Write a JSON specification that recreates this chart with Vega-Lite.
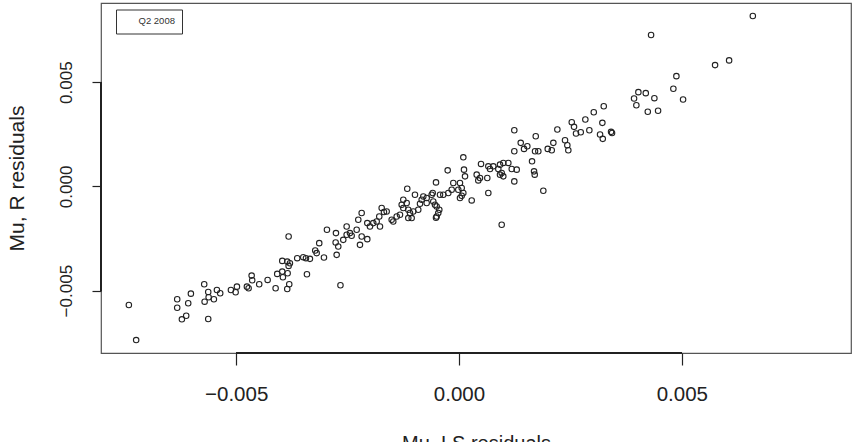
{
  "$schema": "https://vega.github.io/schema/vega-lite/v6.json",
  "width": 750,
  "height": 350,
  "autosize": {"type": "none"},
  "padding": {"left": 101, "top": 3, "right": 3, "bottom": 89},
  "background": "white",
  "config": {
    "view": {"stroke": "#555", "strokeWidth": 1.2},
    "font": "Liberation Sans"
  },
  "data": {
    "values": [
      {"ls": -0.007408, "r": -0.005688, "period": "Q2 2008"},
      {"ls": -0.007244, "r": -0.00737, "period": "Q2 2008"},
      {"ls": -0.006323, "r": -0.005413, "period": "Q2 2008"},
      {"ls": -0.006323, "r": -0.005817, "period": "Q2 2008"},
      {"ls": -0.006076, "r": -0.005606, "period": "Q2 2008"},
      {"ls": -0.006016, "r": -0.005144, "period": "Q2 2008"},
      {"ls": -0.006121, "r": -0.006202, "period": "Q2 2008"},
      {"ls": -0.006218, "r": -0.006375, "period": "Q2 2008"},
      {"ls": -0.005717, "r": -0.004692, "period": "Q2 2008"},
      {"ls": -0.005627, "r": -0.005063, "period": "Q2 2008"},
      {"ls": -0.005618, "r": -0.005317, "period": "Q2 2008"},
      {"ls": -0.005708, "r": -0.005529, "period": "Q2 2008"},
      {"ls": -0.0055, "r": -0.005413, "period": "Q2 2008"},
      {"ls": -0.005432, "r": -0.004966, "period": "Q2 2008"},
      {"ls": -0.005358, "r": -0.005125, "period": "Q2 2008"},
      {"ls": -0.005627, "r": -0.006361, "period": "Q2 2008"},
      {"ls": -0.005118, "r": -0.004966, "period": "Q2 2008"},
      {"ls": -0.005012, "r": -0.005077, "period": "Q2 2008"},
      {"ls": -0.004983, "r": -0.004808, "period": "Q2 2008"},
      {"ls": -0.004759, "r": -0.004808, "period": "Q2 2008"},
      {"ls": -0.004721, "r": -0.004885, "period": "Q2 2008"},
      {"ls": -0.004653, "r": -0.004279, "period": "Q2 2008"},
      {"ls": -0.00464, "r": -0.0045, "period": "Q2 2008"},
      {"ls": -0.004483, "r": -0.004692, "period": "Q2 2008"},
      {"ls": -0.004294, "r": -0.004486, "period": "Q2 2008"},
      {"ls": -0.004115, "r": -0.004885, "period": "Q2 2008"},
      {"ls": -0.004079, "r": -0.004197, "period": "Q2 2008"},
      {"ls": -0.003966, "r": -0.004087, "period": "Q2 2008"},
      {"ls": -0.003951, "r": -0.004356, "period": "Q2 2008"},
      {"ls": -0.003854, "r": -0.004918, "period": "Q2 2008"},
      {"ls": -0.003809, "r": -0.004692, "period": "Q2 2008"},
      {"ls": -0.003845, "r": -0.004163, "period": "Q2 2008"},
      {"ls": -0.003823, "r": -0.002404, "period": "Q2 2008"},
      {"ls": -0.003966, "r": -0.003572, "period": "Q2 2008"},
      {"ls": -0.003854, "r": -0.003606, "period": "Q2 2008"},
      {"ls": -0.003794, "r": -0.003683, "period": "Q2 2008"},
      {"ls": -0.003823, "r": -0.003812, "period": "Q2 2008"},
      {"ls": -0.00363, "r": -0.003442, "period": "Q2 2008"},
      {"ls": -0.003495, "r": -0.003394, "period": "Q2 2008"},
      {"ls": -0.003434, "r": -0.003442, "period": "Q2 2008"},
      {"ls": -0.003345, "r": -0.003476, "period": "Q2 2008"},
      {"ls": -0.003412, "r": -0.004212, "period": "Q2 2008"},
      {"ls": -0.003226, "r": -0.003077, "period": "Q2 2008"},
      {"ls": -0.003194, "r": -0.003202, "period": "Q2 2008"},
      {"ls": -0.003136, "r": -0.002721, "period": "Q2 2008"},
      {"ls": -0.00303, "r": -0.003413, "period": "Q2 2008"},
      {"ls": -0.002963, "r": -0.002082, "period": "Q2 2008"},
      {"ls": -0.002761, "r": -0.00224, "period": "Q2 2008"},
      {"ls": -0.002768, "r": -0.002692, "period": "Q2 2008"},
      {"ls": -0.002745, "r": -0.003284, "period": "Q2 2008"},
      {"ls": -0.00266, "r": -0.00474, "period": "Q2 2008"},
      {"ls": -0.002709, "r": -0.002885, "period": "Q2 2008"},
      {"ls": -0.002597, "r": -0.002563, "period": "Q2 2008"},
      {"ls": -0.002521, "r": -0.002322, "period": "Q2 2008"},
      {"ls": -0.002447, "r": -0.00224, "period": "Q2 2008"},
      {"ls": -0.002409, "r": -0.00237, "period": "Q2 2008"},
      {"ls": -0.002521, "r": -0.001923, "period": "Q2 2008"},
      {"ls": -0.002296, "r": -0.002082, "period": "Q2 2008"},
      {"ls": -0.00226, "r": -0.001601, "period": "Q2 2008"},
      {"ls": -0.002184, "r": -0.001279, "period": "Q2 2008"},
      {"ls": -0.002184, "r": -0.002404, "period": "Q2 2008"},
      {"ls": -0.002058, "r": -0.002529, "period": "Q2 2008"},
      {"ls": -0.002222, "r": -0.002803, "period": "Q2 2008"},
      {"ls": -0.002058, "r": -0.00176, "period": "Q2 2008"},
      {"ls": -0.001998, "r": -0.001923, "period": "Q2 2008"},
      {"ls": -0.001924, "r": -0.00176, "period": "Q2 2008"},
      {"ls": -0.001847, "r": -0.001683, "period": "Q2 2008"},
      {"ls": -0.001773, "r": -0.001923, "period": "Q2 2008"},
      {"ls": -0.001789, "r": -0.001442, "period": "Q2 2008"},
      {"ls": -0.001735, "r": -0.001038, "period": "Q2 2008"},
      {"ls": -0.001684, "r": -0.001231, "period": "Q2 2008"},
      {"ls": -0.001623, "r": -0.001202, "period": "Q2 2008"},
      {"ls": -0.001511, "r": -0.001601, "period": "Q2 2008"},
      {"ls": -0.001475, "r": -0.001683, "period": "Q2 2008"},
      {"ls": -0.001398, "r": -0.001442, "period": "Q2 2008"},
      {"ls": -0.001324, "r": -0.001361, "period": "Q2 2008"},
      {"ls": -0.001286, "r": -0.00088, "period": "Q2 2008"},
      {"ls": -0.00125, "r": -0.000639, "period": "Q2 2008"},
      {"ls": -0.001174, "r": -0.000798, "period": "Q2 2008"},
      {"ls": -0.001138, "r": -0.00112, "period": "Q2 2008"},
      {"ls": -0.0011, "r": -0.001279, "period": "Q2 2008"},
      {"ls": -0.001026, "r": -0.001202, "period": "Q2 2008"},
      {"ls": -0.001062, "r": -0.001519, "period": "Q2 2008"},
      {"ls": -0.000914, "r": -0.00112, "period": "Q2 2008"},
      {"ls": -0.000988, "r": -0.000399, "period": "Q2 2008"},
      {"ls": -0.001161, "r": -0.000111, "period": "Q2 2008"},
      {"ls": -0.000801, "r": -0.000481, "period": "Q2 2008"},
      {"ls": -0.000837, "r": -0.000639, "period": "Q2 2008"},
      {"ls": -0.000725, "r": -0.000558, "period": "Q2 2008"},
      {"ls": -0.000613, "r": -0.000399, "period": "Q2 2008"},
      {"ls": -0.000577, "r": -0.000721, "period": "Q2 2008"},
      {"ls": -0.000539, "r": -0.00088, "period": "Q2 2008"},
      {"ls": -0.000501, "r": -0.000962, "period": "Q2 2008"},
      {"ls": -0.000465, "r": -0.001279, "period": "Q2 2008"},
      {"ls": -0.000442, "r": -0.00112, "period": "Q2 2008"},
      {"ls": -0.000501, "r": -0.001442, "period": "Q2 2008"},
      {"ls": -0.00059, "r": -0.000317, "period": "Q2 2008"},
      {"ls": -0.000516, "r": 0.000192, "period": "Q2 2008"},
      {"ls": -0.000352, "r": -0.000399, "period": "Q2 2008"},
      {"ls": -0.00024, "r": -0.000317, "period": "Q2 2008"},
      {"ls": -0.000164, "r": -0.000159, "period": "Q2 2008"},
      {"ls": -0.000128, "r": 0.000163, "period": "Q2 2008"},
      {"ls": 0.000022, "r": 0.000163, "period": "Q2 2008"},
      {"ls": 0.000061, "r": -0.000077, "period": "Q2 2008"},
      {"ls": 0.000097, "r": -0.000317, "period": "Q2 2008"},
      {"ls": 0.000022, "r": -0.000558, "period": "Q2 2008"},
      {"ls": 0.000285, "r": -0.000673, "period": "Q2 2008"},
      {"ls": -0.000016, "r": -0.000159, "period": "Q2 2008"},
      {"ls": 0.000061, "r": -0.000447, "period": "Q2 2008"},
      {"ls": -0.000426, "r": -0.000399, "period": "Q2 2008"},
      {"ls": -0.000516, "r": -0.001505, "period": "Q2 2008"},
      {"ls": -0.000725, "r": -0.000798, "period": "Q2 2008"},
      {"ls": -0.000875, "r": -0.000832, "period": "Q2 2008"},
      {"ls": -0.00125, "r": -0.001038, "period": "Q2 2008"},
      {"ls": -0.001138, "r": -0.001519, "period": "Q2 2008"},
      {"ls": 0.001241, "r": 0.002692, "period": "Q2 2008"},
      {"ls": 0.001722, "r": 0.002404, "period": "Q2 2008"},
      {"ls": 0.002207, "r": 0.002726, "period": "Q2 2008"},
      {"ls": 0.00253, "r": 0.003077, "period": "Q2 2008"},
      {"ls": 0.002581, "r": 0.002856, "period": "Q2 2008"},
      {"ls": 0.002626, "r": 0.002534, "period": "Q2 2008"},
      {"ls": 0.001385, "r": 0.002087, "period": "Q2 2008"},
      {"ls": 0.001459, "r": 0.001798, "period": "Q2 2008"},
      {"ls": 0.001533, "r": 0.001923, "period": "Q2 2008"},
      {"ls": 0.001241, "r": 0.001683, "period": "Q2 2008"},
      {"ls": 0.001706, "r": 0.001683, "period": "Q2 2008"},
      {"ls": 0.00178, "r": 0.001683, "period": "Q2 2008"},
      {"ls": 0.001639, "r": 0.001202, "period": "Q2 2008"},
      {"ls": 0.001684, "r": 0.000721, "period": "Q2 2008"},
      {"ls": 0.001699, "r": 0.000563, "period": "Q2 2008"},
      {"ls": 0.001991, "r": 0.001798, "period": "Q2 2008"},
      {"ls": 0.002081, "r": 0.001731, "period": "Q2 2008"},
      {"ls": 0.002117, "r": 0.002087, "period": "Q2 2008"},
      {"ls": 0.002379, "r": 0.002212, "period": "Q2 2008"},
      {"ls": 0.002431, "r": 0.001971, "period": "Q2 2008"},
      {"ls": 0.002453, "r": 0.001731, "period": "Q2 2008"},
      {"ls": 0.001892, "r": -0.000207, "period": "Q2 2008"},
      {"ls": 0.001241, "r": 0.00024, "period": "Q2 2008"},
      {"ls": 0.000958, "r": -0.001841, "period": "Q2 2008"},
      {"ls": 0.000097, "r": 0.001394, "period": "Q2 2008"},
      {"ls": 0.000494, "r": 0.001077, "period": "Q2 2008"},
      {"ls": 0.000658, "r": 0.000962, "period": "Q2 2008"},
      {"ls": 0.000696, "r": 0.000837, "period": "Q2 2008"},
      {"ls": 0.00077, "r": 0.000962, "period": "Q2 2008"},
      {"ls": 0.000882, "r": 0.000837, "period": "Q2 2008"},
      {"ls": 0.00092, "r": 0.001043, "period": "Q2 2008"},
      {"ls": 0.000994, "r": 0.001125, "period": "Q2 2008"},
      {"ls": 0.001107, "r": 0.001125, "period": "Q2 2008"},
      {"ls": 0.001183, "r": 0.000837, "period": "Q2 2008"},
      {"ls": 0.001295, "r": 0.000803, "period": "Q2 2008"},
      {"ls": 0.000958, "r": 0.000644, "period": "Q2 2008"},
      {"ls": 0.00092, "r": 0.000563, "period": "Q2 2008"},
      {"ls": 0.000994, "r": 0.000481, "period": "Q2 2008"},
      {"ls": -0.000254, "r": 0.000769, "period": "Q2 2008"},
      {"ls": 0.000112, "r": 0.000803, "period": "Q2 2008"},
      {"ls": 0.000135, "r": 0.000481, "period": "Q2 2008"},
      {"ls": 0.000397, "r": 0.000563, "period": "Q2 2008"},
      {"ls": 0.000471, "r": 0.000404, "period": "Q2 2008"},
      {"ls": 0.000433, "r": 0.000288, "period": "Q2 2008"},
      {"ls": 0.000635, "r": 0.000404, "period": "Q2 2008"},
      {"ls": 0.000658, "r": -0.000317, "period": "Q2 2008"},
      {"ls": 0.00431, "r": 0.00726, "period": "Q2 2008"},
      {"ls": 0.005746, "r": 0.005817, "period": "Q2 2008"},
      {"ls": 0.006061, "r": 0.006043, "period": "Q2 2008"},
      {"ls": 0.004878, "r": 0.005288, "period": "Q2 2008"},
      {"ls": 0.00481, "r": 0.004683, "period": "Q2 2008"},
      {"ls": 0.005028, "r": 0.004168, "period": "Q2 2008"},
      {"ls": 0.003928, "r": 0.004216, "period": "Q2 2008"},
      {"ls": 0.004025, "r": 0.004519, "period": "Q2 2008"},
      {"ls": 0.004191, "r": 0.004471, "period": "Q2 2008"},
      {"ls": 0.004384, "r": 0.004231, "period": "Q2 2008"},
      {"ls": 0.00398, "r": 0.003894, "period": "Q2 2008"},
      {"ls": 0.004236, "r": 0.003577, "period": "Q2 2008"},
      {"ls": 0.004467, "r": 0.003625, "period": "Q2 2008"},
      {"ls": 0.003248, "r": 0.003846, "period": "Q2 2008"},
      {"ls": 0.003024, "r": 0.003558, "period": "Q2 2008"},
      {"ls": 0.002835, "r": 0.003207, "period": "Q2 2008"},
      {"ls": 0.003217, "r": 0.003048, "period": "Q2 2008"},
      {"ls": 0.002732, "r": 0.002596, "period": "Q2 2008"},
      {"ls": 0.002925, "r": 0.002692, "period": "Q2 2008"},
      {"ls": 0.003165, "r": 0.002486, "period": "Q2 2008"},
      {"ls": 0.003226, "r": 0.002279, "period": "Q2 2008"},
      {"ls": 0.003412, "r": 0.002615, "period": "Q2 2008"},
      {"ls": 0.003434, "r": 0.002558, "period": "Q2 2008"},
      {"ls": 0.006593, "r": 0.008173, "period": "Q2 2008"}
    ]
  },
  "layer": [
    {
      "mark": {"type": "rule", "color": "#222", "strokeWidth": 1.3},
      "encoding": {
        "x": {"datum": -0.005, "type": "quantitative"},
        "x2": {"datum": 0.005},
        "y": {"datum": -0.00799, "type": "quantitative"}
      }
    },
    {
      "mark": {"type": "rule", "color": "#222", "strokeWidth": 1.3},
      "encoding": {
        "y": {"datum": -0.005, "type": "quantitative"},
        "y2": {"datum": 0.005},
        "x": {"datum": -0.008033, "type": "quantitative"}
      }
    },
    {
      "mark": {"type": "point", "shape": "circle", "filled": false, "size": 30, "strokeWidth": 1.1, "opacity": 1},
      "encoding": {
        "x": {
          "field": "ls", "type": "quantitative",
          "scale": {"domain": [-0.008033, 0.008796], "nice": false, "zero": false},
          "axis": {
            "title": "Mu, LS residuals", "values": [-0.005, 0, 0.005], "format": ".3f",
            "domain": false, "grid": false, "tickSize": 12, "tickColor": "#222", "tickWidth": 1.2,
            "labelFontSize": 20.5, "labelPadding": 35, "labelBaseline": "alphabetic", "labelColor": "#222",
            "titleFontSize": 20, "titleFontWeight": "normal", "titleColor": "#222",
            "titleBaseline": "alphabetic", "titleY": 96
          }
        },
        "y": {
          "field": "r", "type": "quantitative",
          "scale": {"domain": [-0.00799, 0.008795], "nice": false, "zero": false},
          "axis": {
            "title": "Mu, R residuals", "values": [-0.005, 0, 0.005], "format": ".3f",
            "domain": false, "grid": false, "tickSize": 9, "tickColor": "#222", "tickWidth": 1.2,
            "labelFontSize": 17, "labelAngle": -90, "labelAlign": "center", "labelBaseline": "alphabetic",
            "labelPadding": 21, "labelColor": "#222",
            "titleFontSize": 21, "titleFontWeight": "normal", "titleColor": "#222",
            "titleBaseline": "alphabetic", "titleX": -78
          }
        },
        "color": {
          "field": "period", "type": "nominal",
          "scale": {"range": ["#222"]},
          "legend": {
            "title": null, "orient": "none", "legendX": 15, "legendY": 6.5,
            "strokeColor": "#333", "fillColor": "white", "padding": 7,
            "symbolOpacity": 0, "symbolSize": 16, "labelOffset": 6,
            "labelFontSize": 9.5, "labelColor": "#333",
            "encode": {"legend": {"update": {"strokeWidth": {"value": 1.6}}}}
          }
        }
      }
    }
  ]
}
